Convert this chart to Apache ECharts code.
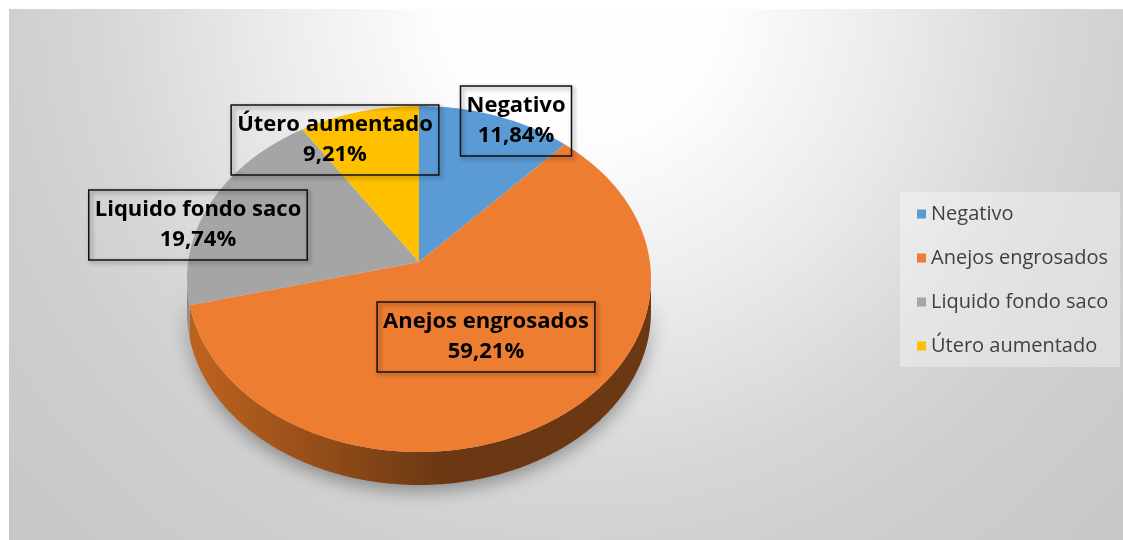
<!DOCTYPE html>
<html>
<head>
<meta charset="utf-8">
<script src="https://cdn.jsdelivr.net/npm/echarts@6/dist/echarts.min.js"></script>
<style>
  html, body { margin: 0; padding: 0; background: #ffffff; }
  #chart { width: 1123px; height: 540px; }
</style>
</head>
<body>
<div id="chart"></div>
<script>
// ---- data ----
const categories = ['Negativo', 'Anejos engrosados', 'Liquido fondo saco', 'Útero aumentado'];
const percentages = [11.84, 59.21, 19.74, 9.21];

// ---- styles / layout ----
const colors = ['#5B9BD5', '#ED7D31', '#A5A5A5', '#FFC000'];
const sideColors = [
  ['#3f6f9c', '#2f5577'],
  ['#c0641f', '#6b3813'],
  ['#8e8e8e', '#6e6e6e'],
  ['#c79500', '#9a7300']
];
const labelCenters = [[516, 121], [486, 337], [198, 225], [335, 140]];
const CX = 419, CY = 279, RX = 232, RY = 173, A = 0.098, DEPTH = 33;

const total = percentages.reduce((s, v) => s + v, 0);
const startAngles = [];
{ let acc = 0; for (const v of percentages) { startAngles.push(acc / total * 360); acc += v; } }

function rimPoint(deg) {
  const t = deg * Math.PI / 180;
  const u = Math.sin(t), v = Math.cos(t);
  const d = 1 + A * v;
  const up = u * Math.sqrt(1 - A * A) / d;
  const vp = (v + A) / d;
  return [CX + RX * up, CY - RY * vp];
}
function arcPoints(s, e) {
  const pts = [];
  const n = Math.max(2, Math.ceil((e - s) / 0.5));
  for (let k = 0; k <= n; k++) pts.push(rimPoint(s + (e - s) * k / n));
  return pts;
}
function fmt(v) { return v.toFixed(2).replace('.', ',') + '%'; }

const frontStart = Math.acos(-A) * 180 / Math.PI;
const frontEnd = 360 - frontStart;

function makeRender(i) {
  return function (params, api) {
    const val = api.value(0);
    const s = startAngles[i];
    const e = s + val / total * 360;
    const children = [];
    // side wall
    const ss = Math.max(s, frontStart), ee = Math.min(e, frontEnd);
    if (ee > ss) {
      const top = arcPoints(ss, ee);
      const bottom = top.slice().reverse().map(p => [p[0], p[1] + DEPTH]);
      children.push({
        type: 'polygon',
        z2: 1,
        shape: { points: top.concat(bottom) },
        style: {
          fill: new echarts.graphic.LinearGradient(CX - RX, 0, CX + RX, 0, [
            { offset: 0, color: sideColors[i][0] },
            { offset: 0.55, color: sideColors[i][1] },
            { offset: 1, color: sideColors[i][1] }
          ], true),
          shadowBlur: 18,
          shadowColor: 'rgba(0,0,0,0.35)',
          shadowOffsetY: 6
        }
      });
    }
    // top surface
    const apex = [CX, CY - RY * A];
    children.push({
      type: 'polygon',
      z2: 5,
      shape: { points: [apex].concat(arcPoints(s, e)) },
      style: { fill: colors[i] }
    });
    // data label
    children.push({
      type: 'text',
      z2: 10,
      x: labelCenters[i][0],
      y: labelCenters[i][1],
      style: {
        text: categories[i] + '\n' + fmt(val / total * 100),
        align: 'center',
        verticalAlign: 'middle',
        fill: '#000000',
        font: 'bold 22px "Open Sans"',
        lineHeight: 30,
        borderColor: '#111111',
        borderWidth: 1.5,
        padding: [5, 6, 5, 6],
        shadowBlur: 4,
        shadowColor: 'rgba(0,0,0,0.45)',
        shadowOffsetX: 2,
        shadowOffsetY: 2
      }
    });
    return { type: 'group', children };
  };
}

const chart = echarts.init(document.getElementById('chart'), null, { renderer: 'canvas' });
chart.setOption({
  animation: false,
  color: colors,
  graphic: [{
    type: 'rect',
    z: -10,
    silent: true,
    shape: { x: 9, y: 9, width: 1114, height: 531 },
    style: {
      fill: new echarts.graphic.RadialGradient(580, 0, 800, [
        { offset: 0, color: '#ffffff' },
        { offset: 0.18, color: '#fdfdfd' },
        { offset: 0.38, color: '#ececec' },
        { offset: 0.59, color: '#d7d7d7' },
        { offset: 0.72, color: '#cfcfcf' },
        { offset: 1, color: '#c6c6c6' }
      ], true)
    }
  }],
  legend: {
    orient: 'vertical',
    left: 900,
    top: 192,
    padding: [12, 12, 11, 17],
    itemWidth: 9,
    itemHeight: 9,
    itemGap: 24,
    icon: 'rect',
    backgroundColor: 'rgba(255,255,255,0.35)',
    textStyle: { fontFamily: 'Open Sans', fontSize: 20, color: '#404040', lineHeight: 20 },
    data: categories
  },
  series: categories.map((name, i) => ({
    type: 'custom',
    name: name,
    coordinateSystem: 'none',
    itemStyle: { color: colors[i] },
    renderItem: makeRender(i),
    data: [[percentages[i]]]
  }))
});
</script>
</body>
</html>
